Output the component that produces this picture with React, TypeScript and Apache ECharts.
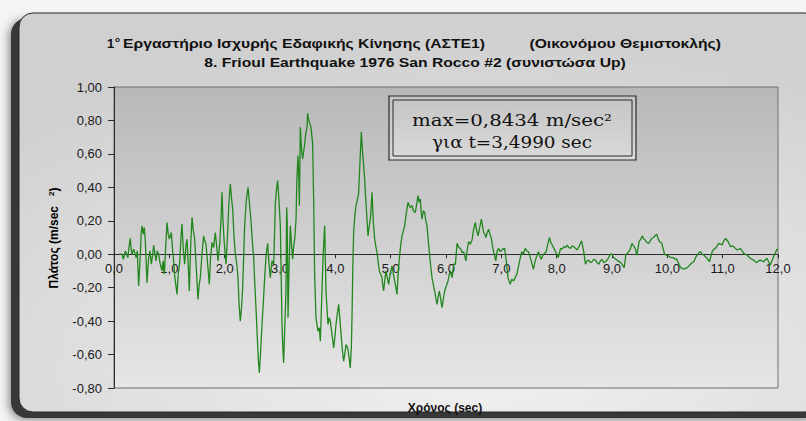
import { useEffect, useRef } from "react";
import * as echarts from "echarts";

// Vertical component, Friuli 1976, San Rocco #2 — time (s) and acceleration (m/s²)
const times = [
  0.10, 0.145, 0.17, 0.205, 0.23, 0.25, 0.27, 0.295, 0.31, 0.325, 0.355, 0.375, 0.40, 0.42, 0.446, 0.476,
  0.49, 0.506, 0.53, 0.548, 0.566, 0.596, 0.626, 0.65, 0.675, 0.70, 0.717, 0.74, 0.76, 0.78, 0.807, 0.83,
  0.867, 0.89, 0.91, 0.935, 0.958, 0.98, 1.0, 1.036, 1.06, 1.078, 1.10, 1.139, 1.16, 1.187, 1.21, 1.229,
  1.25, 1.277, 1.30, 1.319, 1.34, 1.361, 1.385, 1.41, 1.43, 1.458, 1.49, 1.518, 1.54, 1.56, 1.59, 1.62,
  1.64, 1.663, 1.69, 1.723, 1.745, 1.771, 1.80, 1.831, 1.855, 1.88, 1.91, 1.935, 1.952, 1.97, 1.988, 2.024,
  2.05, 2.075, 2.102, 2.125, 2.145, 2.17, 2.193, 2.22, 2.241, 2.26, 2.283, 2.305, 2.325, 2.345, 2.361, 2.39,
  2.422, 2.45, 2.482, 2.50, 2.524, 2.545, 2.566, 2.59, 2.61, 2.627, 2.65, 2.675, 2.70, 2.723, 2.75, 2.777,
  2.80, 2.825, 2.855, 2.886, 2.90, 2.916, 2.94, 2.958, 2.98, 3.006, 3.02, 3.036, 3.05, 3.066, 3.085, 3.108,
  3.12, 3.13, 3.145, 3.165, 3.187, 3.21, 3.229, 3.245, 3.265, 3.29, 3.305, 3.325, 3.34, 3.35, 3.367, 3.39,
  3.41, 3.446, 3.465, 3.488, 3.499, 3.52, 3.56, 3.59, 3.608, 3.626, 3.65, 3.686, 3.71, 3.729, 3.759, 3.78,
  3.807, 3.831, 3.867, 3.89, 3.91, 3.94, 3.97, 3.99, 4.012, 4.035, 4.06, 4.085, 4.109, 4.13, 4.15, 4.17,
  4.193, 4.21, 4.23, 4.25, 4.27, 4.29, 4.301, 4.315, 4.331, 4.35, 4.373, 4.40, 4.42, 4.445, 4.47, 4.49,
  4.512, 4.53, 4.542, 4.565, 4.59, 4.61, 4.633, 4.65, 4.663, 4.685, 4.711, 4.73, 4.753, 4.775, 4.795, 4.82,
  4.843, 4.855, 4.873, 4.895, 4.915, 4.94, 4.963, 4.99, 5.024, 5.05, 5.084, 5.10, 5.114, 5.135, 5.156, 5.18,
  5.205, 5.23, 5.253, 5.28, 5.313, 5.35, 5.386, 5.41, 5.446, 5.47, 5.494, 5.515, 5.536, 5.55, 5.566, 5.59,
  5.614, 5.635, 5.657, 5.68, 5.699, 5.72, 5.747, 5.77, 5.795, 5.815, 5.838, 5.86, 5.88, 5.905, 5.928, 5.95,
  5.976, 6.005, 6.037, 6.06, 6.079, 6.11, 6.139, 6.17, 6.20, 6.23, 6.26, 6.29, 6.32, 6.36, 6.385, 6.41,
  6.44, 6.47, 6.50, 6.53, 6.555, 6.58, 6.61, 6.64, 6.66, 6.68, 6.70, 6.72, 6.745, 6.77, 6.795, 6.82,
  6.84, 6.86, 6.88, 6.90, 6.925, 6.95, 6.98, 7.02, 7.06, 7.09, 7.12, 7.16, 7.19, 7.22, 7.25, 7.28,
  7.305, 7.33, 7.37, 7.40, 7.43, 7.46, 7.49, 7.515, 7.54, 7.58, 7.605, 7.63, 7.67, 7.695, 7.72, 7.745,
  7.77, 7.81, 7.84, 7.87, 7.895, 7.92, 7.95, 7.98, 8.03, 8.07, 8.10, 8.13, 8.16, 8.19, 8.22, 8.25,
  8.28, 8.31, 8.34, 8.37, 8.41, 8.45, 8.49, 8.52, 8.55, 8.58, 8.61, 8.64, 8.67, 8.70, 8.73, 8.76,
  8.79, 8.82, 8.85, 8.88, 8.91, 8.94, 8.97, 9.00, 9.03, 9.07, 9.11, 9.16, 9.22, 9.25, 9.30, 9.33,
  9.36, 9.39, 9.42, 9.45, 9.49, 9.52, 9.55, 9.575, 9.60, 9.63, 9.66, 9.69, 9.72, 9.75, 9.78, 9.81,
  9.835, 9.86, 9.90, 9.95, 9.98, 10.02, 10.06, 10.11, 10.14, 10.17, 10.21, 10.24, 10.27, 10.30, 10.33, 10.36,
  10.39, 10.42, 10.45, 10.48, 10.51, 10.54, 10.57, 10.60, 10.63, 10.66, 10.69, 10.72, 10.76, 10.79, 10.81, 10.84,
  10.87, 10.90, 10.93, 10.96, 10.99, 11.02, 11.05, 11.075, 11.10, 11.12, 11.14, 11.17, 11.20, 11.23, 11.26, 11.29,
  11.32, 11.35, 11.38, 11.41, 11.44, 11.47, 11.50, 11.53, 11.56, 11.59, 11.62, 11.65, 11.68, 11.71, 11.74, 11.77,
  11.80, 11.83, 11.86, 11.89, 11.92, 11.96, 11.98, 12.0,
];

const accel = [
  0.0, 0.0, -0.03, 0.02, 0.0, -0.02, 0.04, 0.095, 0.03, 0.0, 0.03, 0.01, -0.02, 0.02, -0.19, 0.0,
  0.12, 0.17, 0.12, 0.16, 0.08, -0.17, -0.02, 0.02, -0.06, 0.0, 0.055, 0.0, -0.04, 0.02, 0.0, -0.05,
  -0.10, -0.04, -0.12, 0.05, 0.19, 0.12, 0.09, 0.13, 0.02, -0.04, -0.14, -0.24, -0.12, -0.05, 0.10, 0.18,
  0.04, -0.06, 0.05, 0.09, -0.05, -0.22, 0.05, 0.22, 0.15, 0.09, -0.10, -0.27, -0.18, -0.14, 0.0, 0.11,
  0.08, 0.06, -0.05, -0.18, -0.02, 0.07, 0.04, 0.13, 0.05, -0.04, 0.06, 0.22, 0.37, 0.20, 0.09, -0.06,
  0.10, 0.30, 0.42, 0.33, 0.27, 0.10, 0.0, -0.06, -0.14, -0.30, -0.40, -0.32, -0.20, 0.0, 0.17, 0.32,
  0.40, 0.30, 0.17, 0.08, -0.02, -0.18, -0.32, -0.50, -0.64, -0.71, -0.58, -0.42, -0.28, -0.14, 0.0, 0.065,
  -0.05, -0.14, -0.04, -0.06, 0.10, 0.31, 0.40, 0.44, 0.33, 0.17, -0.10, -0.42, -0.55, -0.65, -0.45, -0.22,
  0.28, 0.20, -0.38, -0.05, 0.17, 0.05, -0.03, 0.04, 0.09, 0.21, 0.45, 0.59, 0.45, 0.29, 0.76, 0.62,
  0.57, 0.66, 0.72, 0.76, 0.8434, 0.80, 0.76, 0.66, 0.33, -0.12, -0.38, -0.46, -0.44, -0.52, -0.22, 0.0,
  0.17, -0.22, -0.42, -0.38, -0.40, -0.48, -0.56, -0.50, -0.42, -0.36, -0.30, -0.40, -0.50, -0.58, -0.64, -0.60,
  -0.54, -0.55, -0.57, -0.62, -0.68, -0.55, -0.38, -0.10, 0.13, 0.22, 0.29, 0.33, 0.36, 0.55, 0.73, 0.62,
  0.53, 0.45, 0.37, 0.25, 0.11, 0.16, 0.21, 0.30, 0.37, 0.20, 0.09, 0.05, 0.01, -0.05, -0.10, -0.12,
  -0.14, -0.18, -0.22, -0.15, -0.10, -0.14, -0.18, -0.12, -0.07, -0.12, -0.18, -0.21, -0.24, -0.12, -0.03, 0.05,
  0.11, 0.14, 0.17, 0.24, 0.31, 0.28, 0.29, 0.26, 0.25, 0.30, 0.35, 0.31, 0.33, 0.26, 0.21, 0.26,
  0.25, 0.20, 0.17, 0.08, 0.01, -0.06, -0.14, -0.18, -0.22, -0.26, -0.30, -0.25, -0.22, -0.27, -0.32, -0.27,
  -0.22, -0.19, -0.16, -0.12, -0.10, -0.14, -0.06, -0.06, 0.065, 0.04, 0.035, 0.01, 0.015, -0.04, 0.03, 0.075,
  0.06, 0.085, 0.15, 0.19, 0.14, 0.11, 0.16, 0.21, 0.17, 0.13, 0.12, 0.10, 0.13, 0.15, 0.12, 0.095,
  0.05, 0.015, -0.01, -0.04, 0.02, 0.035, 0.015, 0.03, 0.035, -0.04, -0.14, -0.18, -0.15, -0.16, -0.14, -0.12,
  -0.08, -0.04, 0.015, 0.0, 0.035, 0.02, 0.015, -0.01, -0.04, -0.09, -0.05, -0.02, 0.015, -0.01, -0.03, -0.01,
  0.0, 0.015, 0.06, 0.10, 0.07, 0.055, 0.035, 0.015, -0.02, 0.035, 0.03, 0.045, 0.04, 0.055, 0.04, 0.035,
  0.05, 0.045, 0.035, 0.025, 0.05, 0.08, 0.015, -0.06, -0.04, -0.035, -0.05, -0.045, -0.03, -0.035, -0.05, -0.06,
  -0.04, -0.03, -0.05, -0.045, -0.035, -0.02, 0.0, 0.0, -0.02, -0.03, -0.04, -0.05, -0.08, -0.005, 0.015, 0.03,
  0.065, 0.05, 0.035, -0.005, 0.075, 0.09, 0.11, 0.09, 0.085, 0.07, 0.065, 0.08, 0.095, 0.10, 0.11, 0.12,
  0.09, 0.075, 0.065, 0.0, -0.005, -0.01, -0.02, -0.02, -0.03, -0.03, -0.06, -0.08, -0.085, -0.09, -0.085, -0.08,
  -0.07, -0.06, -0.05, -0.045, -0.02, -0.005, 0.01, 0.015, 0.0, -0.005, -0.015, -0.025, -0.045, -0.01, 0.015, 0.03,
  0.035, 0.05, 0.065, 0.06, 0.055, 0.08, 0.095, 0.085, 0.075, 0.06, 0.045, 0.05, 0.045, 0.035, 0.025, 0.03,
  0.035, 0.02, 0.005, 0.0, -0.005, -0.015, -0.025, -0.03, -0.035, -0.045, -0.05, -0.04, -0.035, -0.04, -0.045, -0.035,
  -0.025, -0.045, -0.065, -0.04, -0.015, 0.015, 0.03, 0.025,
];

// Peak reading printed in the note box
const peakValue = 0.8434;
const peakTime = 3.499;

// Value-axis extent
const yMin = -0.8;
const yMax = 1.0;
const yStep = 0.2;
const xMin = 0;
const xMax = 12;
const xStep = 1;

const titleOrdinal = "1";
const titleOrdinalSup = "ο";
const titleLab = "Εργαστήριο Ισχυρής Εδαφικής Κίνησης (ΑΣΤΕ1)";
const titleAuthor = "(Οικονόμου Θεμιστοκλής)";
const titleRecord = "8. Frioul Earthquake 1976 San Rocco #2 (συνιστώσα Up)";
const xAxisTitle = "Χρόνος (sec)";
const yAxisTitle = "Πλάτος (m/sec";

const SANS = "'Liberation Sans', Arial, sans-serif";
const SERIF = "'DejaVu Serif', 'Liberation Serif', serif";

const GRID = { left: 114, top: 87, width: 664, height: 301 };

const comma = (v: number, digits: number) => {
  const s = (Math.abs(v) < 1e-9 ? 0 : v).toFixed(digits);
  return s.replace(".", ",");
};

function textWidth(text: string, font: string): number {
  const ctx = document.createElement("canvas").getContext("2d");
  if (!ctx) return text.length * 7;
  ctx.font = font;
  return ctx.measureText(text).width;
}

export default function App() {
  const ref = useRef<HTMLDivElement>(null);

  useEffect(() => {
    const el = ref.current;
    if (!el) return;
    const chart = echarts.init(el, null, { renderer: "svg" });

    const data = times.map((t, i) => [t, accel[i]]);

    // the time axis sits on the zero line, labels included
    const zeroFromBottom = (GRID.height * (0 - yMin)) / (yMax - yMin);

    // first title line: lab name and author share one condensed scale
    const titleFont = `bold 13px ${SANS}`;
    const labStart = 123;
    const authorEnd = 721;
    const titleGap = 44;
    const labW = textWidth(titleLab, titleFont);
    const authorW = textWidth(titleAuthor, titleFont);
    const titleScale = (authorEnd - labStart - titleGap) / (labW + authorW);
    const recordScale = 422 / textWidth(titleRecord, titleFont);

    const noteLine1 = `max=${comma(peakValue, 4)} m/sec²`;
    const noteLine2 = `για t=${comma(peakTime, 4)} sec`;
    const noteFont = `16px ${SERIF}`;
    const noteScale1 = 200 / textWidth(noteLine1, noteFont);
    const noteScale2 = 160 / textWidth(noteLine2, noteFont);

    const titleStyle = {
      font: titleFont,
      fill: "#111",
      verticalAlign: "middle" as const,
    };

    const option: echarts.EChartsOption = {
      animation: false,
      backgroundColor: "#f4f4f4",
      grid: {
        ...GRID,
        show: true,
        backgroundColor: new echarts.graphic.LinearGradient(0, 0, 0, 1, [
          { offset: 0, color: "#b8b8b8" },
          { offset: 0.6, color: "#d4d4d4" },
          { offset: 1, color: "#e6e6e6" },
        ]),
        borderColor: "#6e6e6e",
        borderWidth: 1,
      },
      xAxis: {
        type: "value",
        position: "bottom",
        offset: -zeroFromBottom,
        min: xMin,
        max: xMax,
        interval: xStep,
        axisLine: { onZero: false, lineStyle: { color: "#2b2b2b", width: 1 } },
        axisTick: { show: true, inside: false, length: 4, lineStyle: { color: "#2b2b2b" } },
        axisLabel: {
          margin: 8,
          color: "#1a1a1a",
          fontSize: 13,
          fontFamily: SANS,
          formatter: (v: number) => comma(v, 1),
        },
        splitLine: { show: false },
      },
      yAxis: {
        type: "value",
        min: yMin,
        max: yMax,
        interval: yStep,
        axisLine: { show: true, onZero: false, lineStyle: { color: "#2b2b2b", width: 1 } },
        axisTick: { show: true, inside: false, length: 6, lineStyle: { color: "#2b2b2b" } },
        axisLabel: {
          margin: 12,
          color: "#1a1a1a",
          fontSize: 13,
          fontFamily: SANS,
          formatter: (v: number) => comma(v, 2),
        },
        splitLine: { show: false },
      },
      series: [
        {
          type: "line",
          data,
          showSymbol: false,
          symbol: "none",
          lineStyle: { color: "#22861f", width: 1.3 },
          z: 5,
        },
      ],
      graphic: [
        // dark back plate giving the framed panel its heavy left/bottom shadow
        {
          type: "rect",
          z: -30,
          silent: true,
          shape: { x: 11, y: 18, width: 810, height: 400, r: 16 },
          style: {
            fill: "#383838",
            shadowBlur: 10,
            shadowColor: "rgba(0,0,0,0.45)",
            shadowOffsetX: -2,
            shadowOffsetY: 2,
          },
        },
        // brushed-metal chart panel
        {
          type: "rect",
          z: -29,
          silent: true,
          shape: { x: 19, y: 13, width: 800, height: 399, r: 14 },
          style: {
            fill: new echarts.graphic.RadialGradient(0.58, 0.9, 0.85, [
              { offset: 0, color: "#f0f0f0" },
              { offset: 0.6, color: "#dedede" },
              { offset: 1, color: "#d0d0d0" },
            ]),
            stroke: "#262626",
            lineWidth: 1,
          },
        },
        // title, first line
        {
          type: "text",
          z: 10,
          x: 107,
          y: 43,
          style: { ...titleStyle, text: titleOrdinal, align: "left" },
        },
        {
          type: "text",
          z: 10,
          x: 115,
          y: 39,
          style: { font: `bold 8px ${SANS}`, fill: "#111", text: titleOrdinalSup, align: "left", verticalAlign: "middle" },
        },
        {
          type: "text",
          z: 10,
          x: labStart,
          y: 43,
          scaleX: titleScale,
          style: { ...titleStyle, text: titleLab, align: "left" },
        },
        {
          type: "text",
          z: 10,
          x: authorEnd,
          y: 43,
          scaleX: titleScale,
          style: { ...titleStyle, text: titleAuthor, align: "right" },
        },
        // title, second line
        {
          type: "text",
          z: 10,
          x: 415,
          y: 62.5,
          scaleX: recordScale,
          style: { ...titleStyle, text: titleRecord, align: "center" },
        },
        // axis titles
        {
          type: "text",
          z: 10,
          x: 445,
          y: 408,
          style: { font: `bold 12px ${SANS}`, fill: "#111", text: xAxisTitle, align: "center", verticalAlign: "middle" },
        },
        {
          type: "text",
          z: 10,
          x: 54,
          y: 238,
          rotation: Math.PI / 2,
          style: {
            text: `{b|${yAxisTitle}   }{s|2}{b|)}`,
            align: "center",
            verticalAlign: "middle",
            rich: {
              b: { font: `bold 12px ${SANS}`, color: "#111" } as any,
              s: { font: `bold 8px ${SANS}`, color: "#111", verticalAlign: "top", padding: [0, 0, 6, 0] } as any,
            },
          } as any,
        },
        // peak note box with double border
        {
          type: "rect",
          z: 20,
          silent: true,
          shape: { x: 389, y: 96, width: 247, height: 64 },
          style: {
            fill: new echarts.graphic.LinearGradient(0, 0, 0, 1, [
              { offset: 0, color: "#c4c4c4" },
              { offset: 1, color: "#dadada" },
            ]),
            stroke: "#2a2a2a",
            lineWidth: 1.2,
          },
        },
        {
          type: "rect",
          z: 21,
          silent: true,
          shape: { x: 393, y: 100, width: 239, height: 56 },
          style: { fill: "none", stroke: "#2a2a2a", lineWidth: 1 },
        },
        {
          type: "text",
          z: 22,
          x: 512,
          y: 120,
          scaleX: noteScale1,
          style: { font: noteFont, fill: "#111", text: noteLine1, align: "center", verticalAlign: "middle" },
        },
        {
          type: "text",
          z: 22,
          x: 512,
          y: 142,
          scaleX: noteScale2,
          style: { font: noteFont, fill: "#111", text: noteLine2, align: "center", verticalAlign: "middle" },
        },
      ],
    };

    chart.setOption(option);
    return () => chart.dispose();
  }, []);

  return (
    <div
      ref={ref}
      style={{ position: "fixed", left: 0, top: 0, width: 806, height: 421 }}
    />
  );
}
